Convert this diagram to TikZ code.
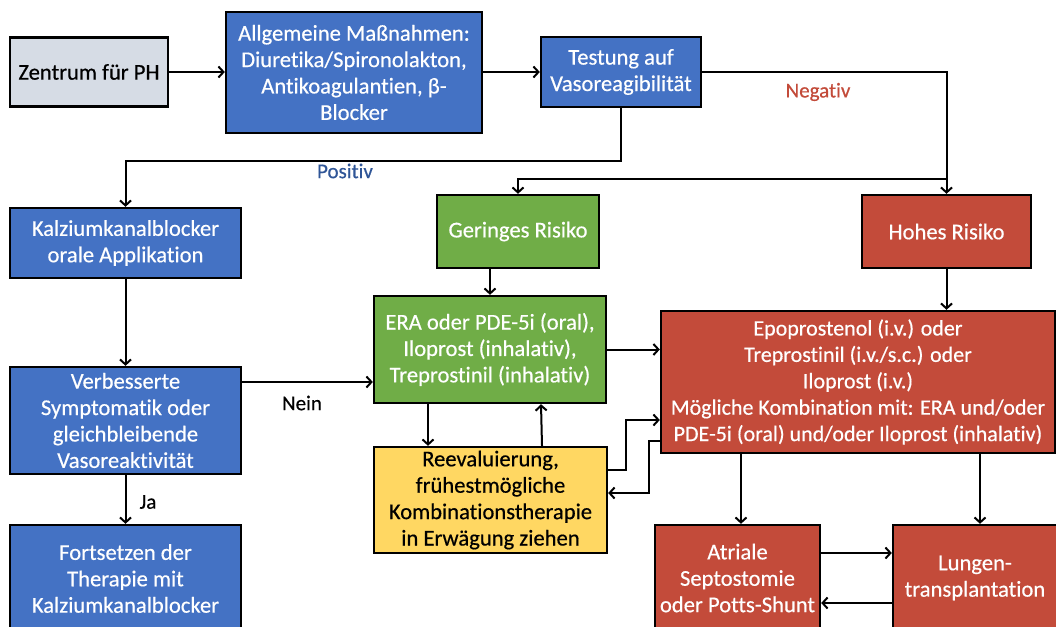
\documentclass[tikz,border=0pt]{standalone}
\usepackage{fontspec}
\setmainfont{Carlito}[Ligatures=NoCommon]
\newfontfamily\semib{Carlito}[Ligatures=NoCommon,FakeBold=0.45]
\usetikzlibrary{arrows.meta}
\definecolor{cblue}{HTML}{4472C4}
\definecolor{cgreen}{HTML}{70AD47}
\definecolor{cred}{HTML}{C34B3A}
\definecolor{cyellow}{HTML}{FFD762}
\definecolor{cgray}{HTML}{D6DCE5}
\definecolor{lblue}{HTML}{2F5597}
\definecolor{lred}{HTML}{C34B3A}
\begin{document}
\begin{tikzpicture}[x=1pt,y=-1pt,
  box/.style={draw=black,line width=2.4pt,inner sep=0pt,align=center,
    font=\semib\fontsize{22.6}{26.4}\selectfont},
  bluebox/.style={box,fill=cblue,text=white},
  greenbox/.style={box,fill=cgreen,text=white},
  redbox/.style={box,fill=cred,text=white},
  conn/.style={line width=2pt,-{Straight Barb[length=5pt,width=11pt,line width=2pt]}},
  lbl/.style={font=\semib\fontsize{21}{24}\selectfont}]
\useasboundingbox (0,0) rectangle (1056,626);
\clip (0,0) rectangle (1056,626);
\fill[white] (0,0) rectangle (1056,626);
% nodes
\node[box,fill=cgray,minimum width=158pt,minimum height=69pt] (zen) at (89,72) {Zentrum für PH};
\node[bluebox,minimum width=256pt,minimum height=121pt] (allg) at (354,72.5) {Allgemeine Maßnahmen:\\Diuretika/Spironolakton,\\Antikoagulantien, β-\\Blocker};
\node[bluebox,minimum width=160pt,minimum height=70pt] (test) at (621,72) {Testung auf\\Vasoreagibilität};
\node[bluebox,minimum width=231pt,minimum height=70pt] (kalz) at (125.5,243) {Kalziumkanalblocker\\orale Applikation};
\node[bluebox,minimum width=231pt,minimum height=107pt] (verb) at (125.5,420.5) {Verbesserte\\Symptomatik oder\\gleichbleibende\\Vasoreaktivität};
\node[bluebox,minimum width=231pt,minimum height=107pt] (fort) at (125.5,578.5) {Fortsetzen der\\Therapie mit\\Kalziumkanalblocker};
\node[greenbox,minimum width=162pt,minimum height=73pt] (ger) at (518,231.5) {Geringes Risiko};
\node[redbox,minimum width=169pt,minimum height=73pt] (hoh) at (946.5,231.5) {Hohes Risiko};
\node[greenbox,minimum width=232pt,minimum height=107pt] (era) at (490,349.5) {ERA oder PDE-5i (oral),\\Iloprost (inhalativ),\\Treprostinil (inhalativ)};
\node[box,fill=cyellow,minimum width=233pt,minimum height=106pt] (reev) at (490.5,500) {Reevaluierung,\\frühestmögliche\\Kombinationstherapie\\in Erwägung ziehen};
\node[redbox,minimum width=394pt,minimum height=142pt,font=\semib\fontsize{22}{26.4}\selectfont] (epo) at (858,382) {Epoprostenol (i.v.) oder\\Treprostinil (i.v./s.c.) oder\\Iloprost (i.v.)\\Mögliche Kombination mit: ERA und/oder\\PDE-5i (oral) und/oder Iloprost (inhalativ)};
\node[redbox,minimum width=165pt,minimum height=106pt] (atr) at (737.5,578) {Atriale\\Septostomie\\oder Potts-Shunt};
\node[redbox,minimum width=164pt,minimum height=106pt] (lung) at (975,578) {Lungen-\\transplantation};
% helper coordinates
\coordinate (negsplit) at (946.5,179);
\coordinate (posturn) at (621,161);
\coordinate (nein1) at (241,382);
\coordinate (r1) at (626,470);
\coordinate (r2) at (626,420);
\coordinate (e1) at (649,441);
\coordinate (e2) at (649,493);
\coordinate (ea) at (741,0);
\coordinate (el) at (980,0);
% connectors
\draw[conn] (zen.east) -- (zen.east -| allg.west);
\draw[conn] (allg.east |- test.west) -- (test.west);
\draw[conn] (test.east) -| (hoh.north);
\draw[conn] (negsplit) -| (ger.north);
\draw[conn] (test.south) -- (posturn) -| (kalz.north);
\draw[conn] (kalz.south) -- (verb.north);
\draw[conn] (nein1) -- (nein1 -| era.west);
\draw[conn] (verb.south) -- (fort.north);
\draw[conn] (era.north |- ger.south) -- (era.north);
\draw[conn] (hoh.south) -- (hoh.south |- epo.north);
\draw[conn] (era.east) -- (era.east -| epo.west);
\draw[conn] ([xshift=-62pt]era.south) -- ([xshift=-62.5pt]reev.north);
\draw[conn] ([xshift=51.5pt]reev.north) -- ([xshift=51pt]era.south);
\draw[conn] (r1 -| reev.east) -- (r1) -- (r2) -- (r2 -| epo.west);
\draw[conn] (e1 -| epo.west) -- (e1) -- (e2) -- (e2 -| reev.east);
\draw[conn] (epo.south -| ea) -- (atr.north -| ea);
\draw[conn] (epo.south -| el) -- (lung.north -| el);
\draw[conn] ([yshift=25pt]atr.east) -- ([yshift=25pt]lung.west);
\draw[conn] ([yshift=-25pt]lung.west) -- ([yshift=-25pt]atr.east);
% labels
\node[lbl,text=lred] (neg) at (818,92) {Negativ};
\node[lbl,text=lblue] (pos) at (345,171) {Positiv};
\node[lbl] (nein) at (302,403) {Nein};
\node[lbl] (ja) at (148,502) {Ja};
\end{tikzpicture}
\end{document}
